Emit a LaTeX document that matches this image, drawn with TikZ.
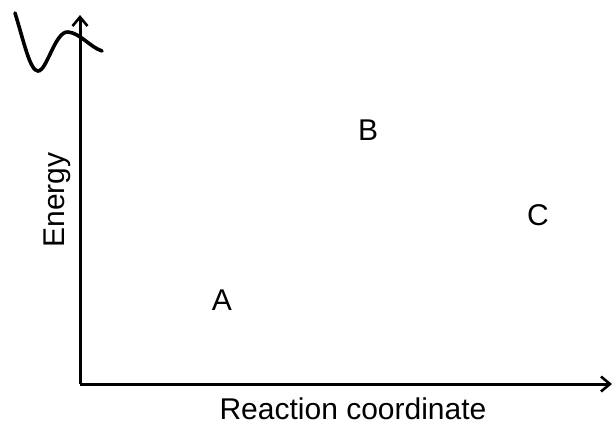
\documentclass[tikz,border=0pt]{standalone}
\usepackage{fontspec}
\setmainfont{Liberation Sans}
\usetikzlibrary{arrows.meta}
\begin{document}
\begin{tikzpicture}[x=1bp,y=-1bp,
  axis/.style={line width=3bp,-{Straight Barb[length=9bp,width=15bp,line width=2.6bp]}},
  curve/.style={line width=3.6bp,line cap=round},
  lbl/.style={font=\fontsize{30bp}{34bp}\selectfont,inner sep=0pt}]
\useasboundingbox (0,0) rectangle (613,423);
\coordinate (o) at (80,384);
\coordinate (ytip) at (80,15);
\coordinate (xtip) at (612,384);
\draw[axis] (o) -- (ytip);
\draw[axis] (o) -- (xtip);
\coordinate (c0) at (15,13);
\coordinate (c1) at (38,71);
\coordinate (c2) at (68,32);
\coordinate (c3) at (102,51);
\draw[curve] (c0) .. controls (24,42) and (30,71) .. (c1)
  .. controls (47,71) and (55,31) .. (c2)
  .. controls (80,33) and (90,47) .. (c3);
\node[lbl] (A) at (222,300) {A};
\node[lbl] (B) at (368,130) {B};
\node[lbl] (C) at (538,215) {C};
\node[lbl,rotate=90] (E) at (57,200) {Energy};
\node[lbl] (R) at (353,409) {Reaction coordinate};
\end{tikzpicture}
\end{document}
